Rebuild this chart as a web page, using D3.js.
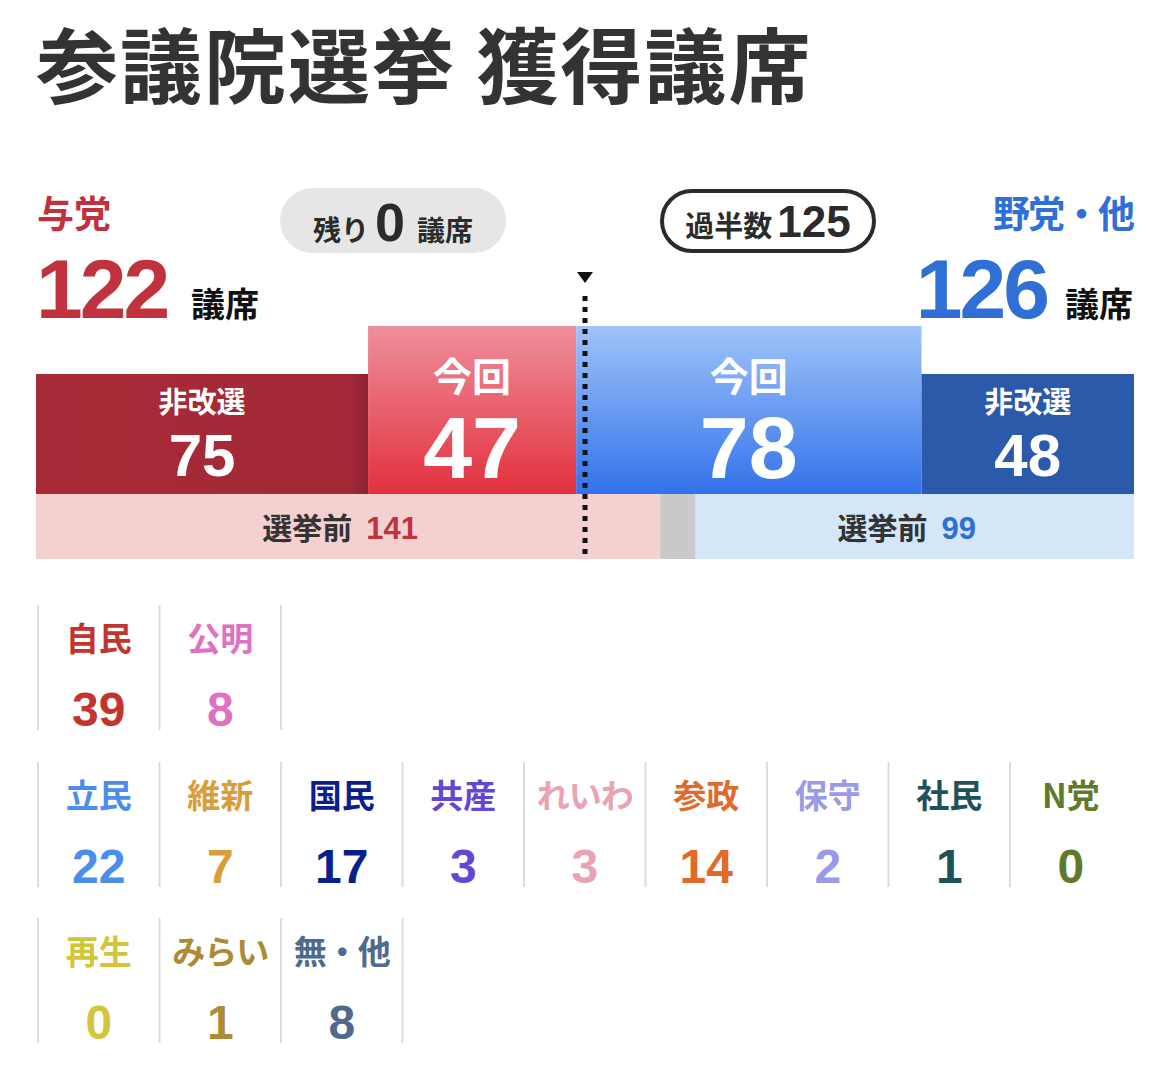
<!DOCTYPE html>
<html>
<head>
<meta charset="utf-8">
<script src="https://cdn.jsdelivr.net/npm/d3@7"></script>
<style>
  body { margin: 0; background: #fff; }
  svg { display: block; }
  .jp { font-family: "Noto Sans CJK JP", sans-serif; font-weight: 700; }
  .num { font-family: "Liberation Sans", Arial, sans-serif; font-weight: 700; }
</style>
</head>
<body>
<div id="chart"></div>
<script>
// Data
var title = "参議院選挙 獲得議席";
var blocNames = ["与党", "野党・他"];
var blocTotals = [122, 126];
var holdoverSeats = [75, 48];   // 非改選
var electedSeats = [47, 78];    // 今回
var preElectionSeats = [141, 99];
var totalSeats = 248;
var majority = 125;
var remaining = 0;

var rulingParties = ["自民", "公明"];
var rulingSeats = [39, 8];
var oppParties = ["立民", "維新", "国民", "共産", "れいわ", "参政", "保守", "社民", "N党", "再生", "みらい", "無・他"];
var oppSeats = [22, 7, 17, 3, 3, 14, 2, 1, 0, 0, 1, 8];

// colours
var red = "#c1323f";
var blue = "#2f6fd6";
var partyColor = {
  "自民": "#c3352c", "公明": "#e070c2",
  "立民": "#4a8ded", "維新": "#d99d3c", "国民": "#0b1f8c", "共産": "#6446d6",
  "れいわ": "#eaa3b0", "参政": "#e06a2a", "保守": "#9b9ae6", "社民": "#1f5258",
  "N党": "#5f7a2c", "再生": "#d3c53a", "みらい": "#ad8a36", "無・他": "#4f6a8c"
};

var width = 1170;
var height = 1082;

var svg = d3.select("#chart")
  .append("svg")
  .attr("width", width)
  .attr("height", height);

var defs = svg.append("defs");

function vGrad(id, top, bottom) {
  var g = defs.append("linearGradient").attr("id", id)
    .attr("x1", 0).attr("y1", 0).attr("x2", 0).attr("y2", 1);
  g.append("stop").attr("offset", "0%").attr("stop-color", top);
  g.append("stop").attr("offset", "100%").attr("stop-color", bottom);
}
vGrad("redNow", "#ee8f9b", "#e2313d");
vGrad("blueNow", "#a0c4f8", "#3272ea");

// dark red has a slight shade at its right edge
var shade = defs.append("linearGradient").attr("id", "redOld")
  .attr("x1", 0).attr("y1", 0).attr("x2", 1).attr("y2", 0);
shade.append("stop").attr("offset", "0%").attr("stop-color", "#a72a37");
shade.append("stop").attr("offset", "94%").attr("stop-color", "#a32936");
shade.append("stop").attr("offset", "100%").attr("stop-color", "#8c2230");

// Title
svg.append("text")
  .attr("class", "jp")
  .attr("x", 36)
  .attr("y", 97)
  .attr("font-size", 82)
  .attr("letter-spacing", 2)
  .attr("fill", "#333")
  .text(title);

// Seat scale
var x = d3.scaleLinear()
  .domain([0, totalSeats])
  .range([36, 1134]);

var barBottom = 494;
var tallTop = 326;
var shortTop = 374;

var segments = [
  { label: "非改選", value: holdoverSeats[0], start: 0, top: shortTop, fill: "url(#redOld)", big: false },
  { label: "今回", value: electedSeats[0], start: holdoverSeats[0], top: tallTop, fill: "url(#redNow)", big: true },
  { label: "今回", value: electedSeats[1], start: blocTotals[0], top: tallTop, fill: "url(#blueNow)", big: true },
  { label: "非改選", value: holdoverSeats[1], start: blocTotals[0] + electedSeats[1], top: shortTop, fill: "#2b5aab", big: false }
];

var seg = svg.selectAll("g.seg").data(segments).enter()
  .append("g").attr("class", "seg");

seg.append("rect")
  .attr("x", function (d) { return x(d.start); })
  .attr("y", function (d) { return d.top; })
  .attr("width", function (d) { return x(d.start + d.value) - x(d.start); })
  .attr("height", function (d) { return barBottom - d.top; })
  .attr("fill", function (d) { return d.fill; });

seg.append("text")
  .attr("class", "jp")
  .attr("x", function (d) { return x(d.start + d.value / 2); })
  .attr("y", function (d) { return d.big ? 391 : 413; })
  .attr("text-anchor", "middle")
  .attr("font-size", function (d) { return d.big ? 39 : 29; })
  .attr("fill", "#fff")
  .text(function (d) { return d.label; });

seg.append("text")
  .attr("class", "num")
  .attr("x", function (d) { return x(d.start + d.value / 2); })
  .attr("y", function (d) { return d.big ? 478 : 476; })
  .attr("text-anchor", "middle")
  .attr("font-size", function (d) { return d.big ? 88 : 60; })
  .attr("fill", "#fff")
  .text(function (d) { return d.value; });

// Pre-election row
var vacant = totalSeats - preElectionSeats[0] - preElectionSeats[1];
var preRow = [
  { value: preElectionSeats[0], start: 0, fill: "#f5d0d1", color: red, show: true },
  { value: vacant, start: preElectionSeats[0], fill: "#c9c9c9", color: "#333", show: false },
  { value: preElectionSeats[1], start: preElectionSeats[0] + vacant, fill: "#d4e7f9", color: blue, show: true }
];

svg.selectAll("rect.pre").data(preRow).enter()
  .append("rect")
  .attr("class", "pre")
  .attr("x", function (d) { return x(d.start); })
  .attr("y", barBottom)
  .attr("width", function (d) { return x(d.start + d.value) - x(d.start); })
  .attr("height", 65)
  .attr("fill", function (d) { return d.fill; });

var preText = svg.selectAll("text.pre").data(preRow.filter(function (d) { return d.show; })).enter()
  .append("text")
  .attr("class", "pre")
  .attr("x", function (d) { return x(d.start + d.value / 2) - 8; })
  .attr("y", 539)
  .attr("text-anchor", "middle");
preText.append("tspan")
  .attr("class", "jp")
  .attr("font-size", 30)
  .attr("fill", "#333")
  .text("選挙前");
preText.append("tspan")
  .attr("class", "num")
  .attr("font-size", 31)
  .attr("dx", 14)
  .attr("fill", function (d) { return d.color; })
  .text(function (d) { return d.value; });

// Majority marker
var midX = x(totalSeats / 2);
svg.append("path")
  .attr("d", "M" + (midX - 8) + ",272 L" + (midX + 8) + ",272 L" + midX + ",283 Z")
  .attr("fill", "#111");
svg.append("line")
  .attr("x1", midX).attr("x2", midX)
  .attr("y1", 296).attr("y2", 556)
  .attr("stroke", "#111")
  .attr("stroke-width", 5)
  .attr("stroke-dasharray", "5 6");

// Bloc headers
svg.append("text").attr("class", "jp")
  .attr("x", 37).attr("y", 228)
  .attr("font-size", 37).attr("fill", red)
  .text(blocNames[0]);
svg.append("text").attr("class", "num")
  .attr("x", 36).attr("y", 318)
  .attr("font-size", 84).attr("letter-spacing", -3).attr("fill", red)
  .text(blocTotals[0]);
svg.append("text").attr("class", "jp")
  .attr("x", 191).attr("y", 317)
  .attr("font-size", 34).attr("fill", "#111")
  .text("議席");

svg.append("text").attr("class", "jp")
  .attr("x", 1133).attr("y", 228)
  .attr("text-anchor", "end")
  .attr("font-size", 37).attr("letter-spacing", -2).attr("fill", blue)
  .text(blocNames[1]);
svg.append("text").attr("class", "jp")
  .attr("x", 1133).attr("y", 317)
  .attr("text-anchor", "end")
  .attr("font-size", 34).attr("fill", "#111")
  .text("議席");
svg.append("text").attr("class", "num")
  .attr("x", 1047).attr("y", 318)
  .attr("text-anchor", "end")
  .attr("font-size", 84).attr("letter-spacing", -3).attr("fill", blue)
  .text(blocTotals[1]);

// Remaining pill
svg.append("rect")
  .attr("x", 280).attr("y", 188)
  .attr("width", 226).attr("height", 65)
  .attr("rx", 32.5)
  .attr("fill", "#e6e6e6");
var remText = svg.append("text")
  .attr("x", 393).attr("y", 241)
  .attr("text-anchor", "middle")
  .attr("fill", "#2b2b2b");
remText.append("tspan").attr("class", "jp").attr("font-size", 28).text("残り");
remText.append("tspan").attr("class", "num").attr("font-size", 54).attr("dx", 6).text(remaining);
remText.append("tspan").attr("class", "jp").attr("font-size", 28).attr("dx", 12).text("議席");

// Majority pill
svg.append("rect")
  .attr("x", 662).attr("y", 191)
  .attr("width", 212).attr("height", 60)
  .attr("rx", 30)
  .attr("fill", "#fff")
  .attr("stroke", "#2b2b2b")
  .attr("stroke-width", 4);
var majText = svg.append("text")
  .attr("x", 768).attr("y", 237)
  .attr("text-anchor", "middle")
  .attr("fill", "#2b2b2b");
majText.append("tspan").attr("class", "jp").attr("font-size", 29).text("過半数");
majText.append("tspan").attr("class", "num").attr("font-size", 44).attr("dx", 5).text(majority);

// Party grid
var cellW = 121.5;
var cellH = 125;
var gridX = 38;
var rowTops = [605, 762, 918];
var perRow = 9;

var groups = [
  { names: rulingParties, seats: rulingSeats, row: 0 },
  { names: oppParties, seats: oppSeats, row: 1 }
];

var cells = [];
groups.forEach(function (g) {
  g.names.forEach(function (n, i) {
    cells.push({
      name: n,
      seats: g.seats[i],
      row: g.row + Math.floor(i / perRow),
      col: i % perRow,
      last: i === g.names.length - 1
    });
  });
});

var cell = svg.selectAll("g.party").data(cells).enter()
  .append("g")
  .attr("class", "party")
  .attr("transform", function (d) {
    return "translate(" + (gridX + d.col * cellW) + "," + rowTops[d.row] + ")";
  });

cell.append("line")
  .attr("x1", 0).attr("x2", 0)
  .attr("y1", 0).attr("y2", cellH)
  .attr("stroke", "#dcdcdc")
  .attr("stroke-width", 2);

cell.filter(function (d) { return d.last; })
  .append("line")
  .attr("x1", cellW).attr("x2", cellW)
  .attr("y1", 0).attr("y2", cellH)
  .attr("stroke", "#dcdcdc")
  .attr("stroke-width", 2);

cell.append("text")
  .attr("class", "jp")
  .attr("x", cellW / 2)
  .attr("y", 46)
  .attr("text-anchor", "middle")
  .attr("font-size", 33)
  .attr("letter-spacing", function (d) { return d.name.length > 2 ? -1 : 0; })
  .attr("fill", function (d) { return partyColor[d.name]; })
  .text(function (d) { return d.name; });

cell.append("text")
  .attr("class", "num")
  .attr("x", cellW / 2)
  .attr("y", 121)
  .attr("text-anchor", "middle")
  .attr("font-size", 48)
  .attr("fill", function (d) { return partyColor[d.name]; })
  .text(function (d) { return d.seats; });
</script>
</body>
</html>
